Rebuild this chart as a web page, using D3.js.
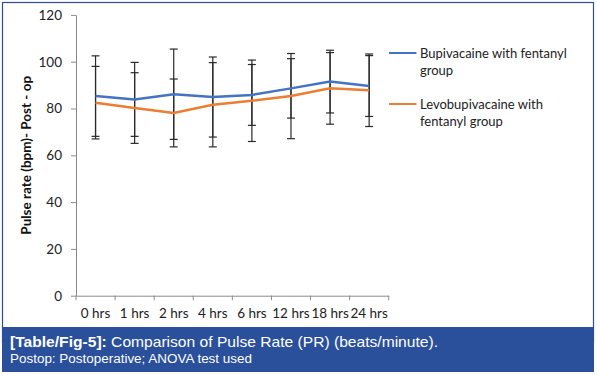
<!DOCTYPE html>
<html>
<head>
<meta charset="utf-8">
<script src="https://cdn.jsdelivr.net/npm/d3@7"></script>
<style>
  body { margin: 0; background: #fff; }
  svg { display: block; }
</style>
</head>
<body>
<div id="chart"></div>
<script>
//***************** data *******************/
var categories = ["0 hrs", "1 hrs", "2 hrs", "4 hrs", "6 hrs", "12 hrs", "18 hrs", "24 hrs"];
var bupiMean = [85.3, 83.9, 86.1, 84.9, 85.8, 88.6, 91.5, 89.6];
var bupiSD   = [17.2, 15.8, 19.3, 17.1, 13.0, 12.7, 13.4, 13.0];
var levoMean = [82.5, 80.2, 78.1, 81.6, 83.3, 85.3, 88.6, 87.8];
var levoSD   = [15.5, 15.1, 14.5, 18.0, 17.4, 18.2, 15.3, 15.5];
var yTicks = [0, 20, 40, 60, 80, 100, 120];
var seriesNames = [["Bupivacaine with fentanyl", "group"], ["Levobupivacaine with", "fentanyl group"]];
var seriesColors = ["#4472c4", "#ed7d31"];

//************* set dimensions ***************/
var W = 597, H = 375;
var plot = {left: 76, right: 388.7, top: 14.9, bottom: 295.7};

var svg = d3.select("#chart")
  .append("svg")
    .attr("width", W)
    .attr("height", H);

svg.append("rect").attr("width", W).attr("height", H).attr("fill", "#fff");

// frame
svg.append("rect")
  .attr("x", 2.5).attr("y", 2.5)
  .attr("width", 591).attr("height", 340)
  .attr("fill", "none")
  .attr("stroke", "#2d4f8e")
  .attr("stroke-width", 1.2);

//***************** scales *******************/
var x = d3.scaleBand()
  .domain(categories)
  .range([plot.left, plot.right])
  .padding(0);

var y = d3.scaleLinear()
  .domain([0, 120])
  .range([plot.bottom, plot.top]);

//***************** axes *******************/
var yAxis = svg.append("g")
  .attr("transform", "translate(" + plot.left + ",0)")
  .call(d3.axisLeft(y).tickValues(yTicks).tickSize(5).tickSizeOuter(0).tickPadding(9));

var xAxis = svg.append("g")
  .attr("transform", "translate(0," + plot.bottom + ")")
  .call(d3.axisBottom(x).tickSize(0).tickPadding(13));

// x ticks at band edges (excel style)
xAxis.selectAll(".edge")
  .data(categories.concat(["end"]))
  .enter().append("line")
    .attr("class", "edge")
    .attr("x1", function(d, i) { return i < categories.length ? x(d) : plot.right; })
    .attr("x2", function(d, i) { return i < categories.length ? x(d) : plot.right; })
    .attr("y1", 0).attr("y2", 4.5)
    .attr("stroke", "#8a8a8a");

svg.selectAll(".domain").attr("stroke", "#8a8a8a");
svg.selectAll(".tick line").attr("stroke", "#8a8a8a");
svg.selectAll(".tick text")
  .attr("font-family", "Lato, sans-serif")
  .attr("font-size", "13.5px")
  .attr("fill", "#222");

//y label
svg.append("text")
  .attr("transform", "translate(31," + ((plot.top + plot.bottom) / 2) + ") rotate(-90)")
  .attr("text-anchor", "middle")
  .attr("font-family", "Lato, sans-serif")
  .attr("font-weight", "bold")
  .attr("font-size", "13.5px")
  .attr("fill", "#111")
  .text("Pulse rate (bpm)- Post - op");

//***************** error bars *******************/
function errorBars(means, sds, cls) {
  var g = svg.append("g").attr("class", cls);
  var cx = function(d, i) { return x(categories[i]) + x.bandwidth() / 2; };
  g.selectAll("line.v").data(means).enter().append("line")
    .attr("class", "v")
    .attr("x1", cx).attr("x2", cx)
    .attr("y1", function(d, i) { return y(d + sds[i]); })
    .attr("y2", function(d, i) { return y(d - sds[i]); });
  g.selectAll("line.top").data(means).enter().append("line")
    .attr("class", "top")
    .attr("x1", function(d, i) { return cx(d, i) - 4; })
    .attr("x2", function(d, i) { return cx(d, i) + 4; })
    .attr("y1", function(d, i) { return y(d + sds[i]); })
    .attr("y2", function(d, i) { return y(d + sds[i]); });
  g.selectAll("line.bot").data(means).enter().append("line")
    .attr("class", "bot")
    .attr("x1", function(d, i) { return cx(d, i) - 4; })
    .attr("x2", function(d, i) { return cx(d, i) + 4; })
    .attr("y1", function(d, i) { return y(d - sds[i]); })
    .attr("y2", function(d, i) { return y(d - sds[i]); });
  g.selectAll("line").attr("stroke", "#2a2a2a").attr("stroke-width", 1.2);
}
errorBars(bupiMean, bupiSD, "err-bupi");
errorBars(levoMean, levoSD, "err-levo");

//***************** lines *******************/
var line = d3.line()
  .x(function(d, i) { return x(categories[i]) + x.bandwidth() / 2; })
  .y(function(d) { return y(d); });

[bupiMean, levoMean].forEach(function(s, k) {
  svg.append("path")
    .datum(s)
    .attr("d", line)
    .attr("fill", "none")
    .attr("stroke", seriesColors[k])
    .attr("stroke-width", 2.5);
});

//***************** legend *******************/
var legend = svg.append("g").attr("transform", "translate(389,53)");
seriesNames.forEach(function(lines, k) {
  var gy = k * 51;
  legend.append("line")
    .attr("x1", 0).attr("x2", 27.5)
    .attr("y1", gy).attr("y2", gy)
    .attr("stroke", seriesColors[k])
    .attr("stroke-width", 2);
  lines.forEach(function(t, j) {
    legend.append("text")
      .attr("x", 31)
      .attr("y", gy + j * 17 + 4.5)
      .attr("font-family", "Lato, sans-serif")
      .attr("font-size", "13px")
      .attr("fill", "#222")
      .text(t);
  });
});

//***************** caption *******************/
svg.append("rect")
  .attr("x", 2).attr("y", 327)
  .attr("width", 592).attr("height", 45)
  .attr("fill", "#2a4f9b");

var cap = svg.append("text")
  .attr("x", 10).attr("y", 347)
  .attr("font-family", "Liberation Sans, Arial, sans-serif")
  .attr("font-size", "14.5px")
  .attr("fill", "#fff")
  .attr("textLength", 428)
  .attr("lengthAdjust", "spacingAndGlyphs");
cap.append("tspan").attr("font-weight", "bold").text("[Table/Fig-5]:");
cap.append("tspan").text(" Comparison of Pulse Rate (PR) (beats/minute).");

svg.append("text")
  .attr("x", 10).attr("y", 363)
  .attr("font-family", "Liberation Sans, Arial, sans-serif")
  .attr("font-size", "12.5px")
  .attr("fill", "#fff")
  .attr("textLength", 242)
  .attr("lengthAdjust", "spacingAndGlyphs")
  .text("Postop: Postoperative; ANOVA test used");
</script>
</body>
</html>
